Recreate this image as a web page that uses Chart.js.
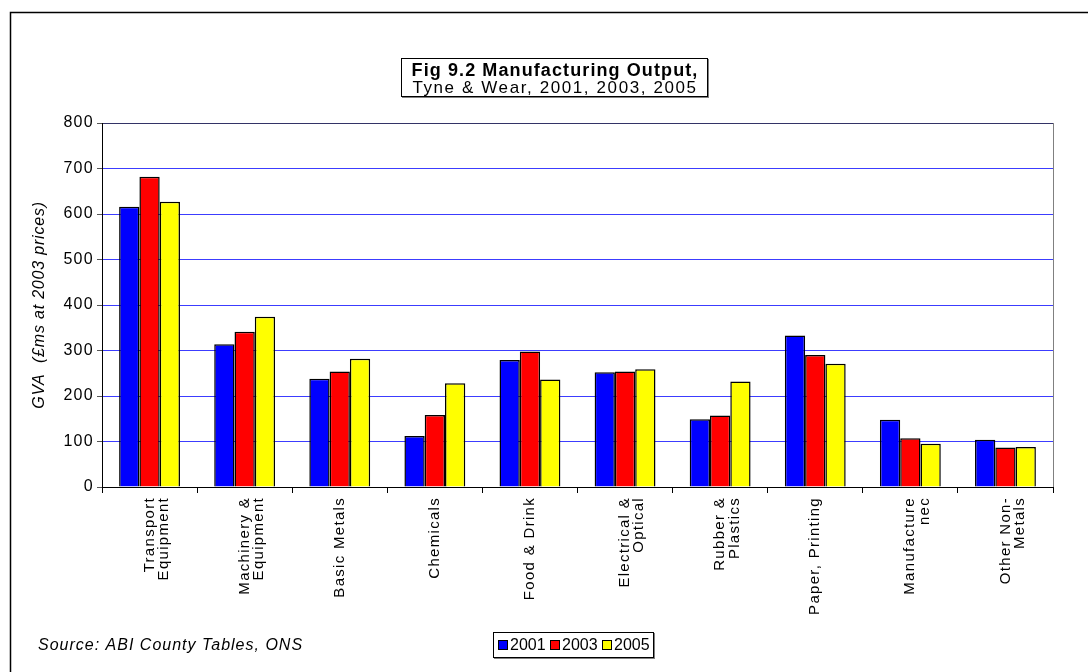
<!DOCTYPE html>
<html>
<head>
<meta charset="utf-8">
<script src="https://cdn.jsdelivr.net/npm/chart.js@4"></script>
<style>
  html, body { margin: 0; padding: 0; background: #fff; }
  #wrap { position: relative; width: 1088px; height: 672px; }
</style>
</head>
<body>
<div id="wrap"><canvas id="chart" width="1088" height="672"></canvas></div>
<script>
// data
const categories = [
  ['Transport', 'Equipment'], ['Machinery &', 'Equipment'], 'Basic Metals', 'Chemicals',
  'Food & Drink', ['Electrical &', 'Optical'], ['Rubber &', 'Plastics'], 'Paper, Printing',
  ['Manufacture', 'nec'], ['Other Non-', 'Metals']
];
const seriesNames = ['2001', '2003', '2005'];
const values2001 = [616, 314, 238, 112, 279, 252, 149, 333, 148, 104];
const values2003 = [682, 341, 254, 158, 298, 254, 157, 290, 107, 87];
const values2005 = [627, 374, 282, 228, 236, 259, 232, 271, 95, 88];
const seriesColors = ['#0000ff', '#ff0000', '#ffff00'];
const yMin = 0, yMax = 800, yStep = 100;

const titleLines = ['Fig 9.2 Manufacturing Output,', 'Tyne & Wear, 2001, 2003, 2005'];
const yTitle = 'GVA  (£ms at 2003 prices)';
const sourceText = 'Source: ABI County Tables, ONS';

const FONT = "'Liberation Sans', Arial, sans-serif";

function spacedText(ctx, text, x, y, spacing) {
  ctx.save();
  ctx.letterSpacing = spacing + 'px';
  ctx.fillText(text, x, y);
  ctx.restore();
}

const decorations = {
  id: 'decorations',
  beforeDraw(chart) {
    const ctx = chart.ctx;
    ctx.save();
    ctx.fillStyle = '#fff';
    ctx.fillRect(0, 0, chart.width, chart.height);
    ctx.restore();
    ctx.letterSpacing = '1.3px';
  },
  afterDraw(chart) {
    const ctx = chart.ctx;
    const area = chart.chartArea;
    ctx.save();

    // outer frame (cut off on right and bottom)
    ctx.strokeStyle = '#000';
    ctx.lineWidth = 1.5;
    ctx.beginPath();
    ctx.moveTo(10.5, chart.height + 2);
    ctx.lineTo(10.5, 12.5);
    ctx.lineTo(chart.width + 2, 12.5);
    ctx.stroke();

    // plot area right edge
    ctx.strokeStyle = '#808080';
    ctx.lineWidth = 1;
    ctx.beginPath();
    ctx.moveTo(Math.round(area.right) + 0.5, area.top);
    ctx.lineTo(Math.round(area.right) + 0.5, area.bottom);
    ctx.stroke();

    // title box
    ctx.fillStyle = '#808080';
    ctx.fillRect(402, 59, 307, 39);
    ctx.fillStyle = '#fff';
    ctx.fillRect(401, 58, 307, 39);
    ctx.strokeStyle = '#000';
    ctx.strokeRect(401.5, 58.5, 306, 38);
    ctx.fillStyle = '#000';
    ctx.textAlign = 'center';
    ctx.textBaseline = 'middle';
    ctx.font = 'bold 18px ' + FONT;
    spacedText(ctx, titleLines[0], 555, 71, 1.1);
    ctx.font = '17px ' + FONT;
    spacedText(ctx, titleLines[1], 555, 88, 1.6);

    // y axis title
    ctx.save();
    ctx.translate(40, (area.top + area.bottom) / 2);
    ctx.rotate(-Math.PI / 2);
    ctx.font = 'italic 16px ' + FONT;
    spacedText(ctx, yTitle, 0, 0, 0.8);
    ctx.restore();

    // source note
    ctx.textAlign = 'left';
    ctx.font = 'italic 16px ' + FONT;
    spacedText(ctx, sourceText, 38, 646, 1.0);

    // legend
    const lx = 493, ly = 632, lw = 161, lh = 26;
    ctx.fillStyle = '#808080';
    ctx.fillRect(lx + 1, ly + 1, lw, lh);
    ctx.fillStyle = '#fff';
    ctx.fillRect(lx, ly, lw, lh);
    ctx.strokeStyle = '#000';
    ctx.strokeRect(lx + 0.5, ly + 0.5, lw - 1, lh - 1);
    ctx.font = '16px ' + FONT;
    chart.data.datasets.forEach((ds, i) => {
      const sx = lx + 5 + i * 52;
      const sy = ly + lh / 2;
      ctx.fillStyle = ds.backgroundColor;
      ctx.fillRect(sx, sy - 5, 10, 10);
      ctx.strokeStyle = '#000';
      ctx.strokeRect(sx + 0.5, sy - 4.5, 9, 9);
      ctx.fillStyle = '#000';
      spacedText(ctx, ds.label, sx + 12, sy + 1, 0);
    });

    ctx.restore();
  }
};

new Chart(document.getElementById('chart'), {
  type: 'bar',
  data: {
    labels: categories,
    datasets: [values2001, values2003, values2005].map((vals, i) => ({
      label: seriesNames[i],
      data: vals,
      backgroundColor: seriesColors[i],
      borderColor: '#000',
      borderWidth: 1.5,
      categoryPercentage: 0.64,
      barPercentage: 1.0
    }))
  },
  options: {
    responsive: false,
    devicePixelRatio: 1,
    animation: false,
    layout: { padding: { top: 123, right: 35, bottom: 0, left: 0 } },
    plugins: {
      legend: { display: false },
      title: { display: false },
      tooltip: { enabled: false }
    },
    scales: {
      x: {
        offset: true,
        grid: {
          offset: true,
          drawOnChartArea: false,
          drawTicks: true,
          tickLength: 6,
          color: '#000'
        },
        border: { display: true, color: '#000', width: 1 },
        ticks: {
          minRotation: 90,
          maxRotation: 90,
          autoSkip: false,
          padding: 4,
          color: '#000',
          font: { family: FONT, size: 15, lineHeight: 0.95 }
        },
        afterFit(scale) { scale.height = 185; }
      },
      y: {
        min: yMin,
        max: yMax,
        grid: {
          color: (c) => c.tick.value === yMax ? '#333366' : (c.tick.value === yMin ? 'rgba(0,0,0,0)' : '#3c3cff'),
          lineWidth: 1,
          drawTicks: true,
          tickLength: 5,
          tickColor: '#555'
        },
        border: { display: true, color: '#000', width: 1 },
        ticks: {
          stepSize: yStep,
          padding: 3,
          color: '#000',
          font: { family: FONT, size: 16 }
        },
        afterFit(scale) { scale.width = 102; }
      }
    }
  },
  plugins: [decorations]
});
</script>
</body>
</html>
